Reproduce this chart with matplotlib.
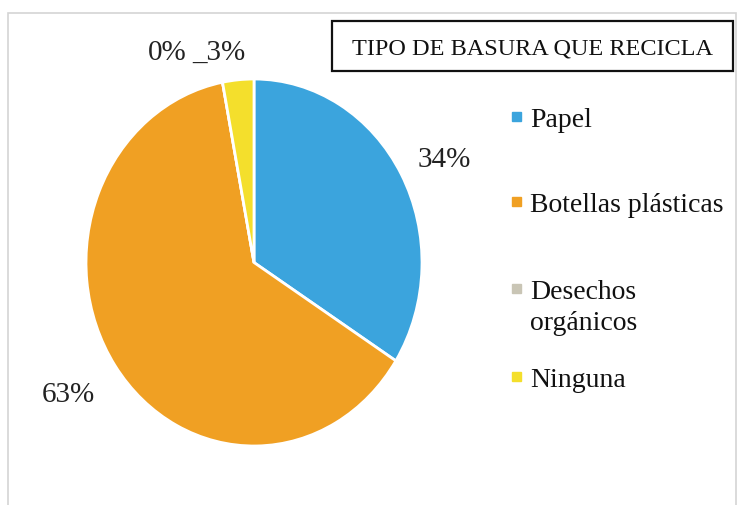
import matplotlib.pyplot as plt
from matplotlib.patches import Rectangle

plt.rcParams['font.family'] = ['Liberation Serif', 'DejaVu Serif']

categories = ['Papel', 'Botellas plásticas', 'Desechos\norgánicos', 'Ninguna']
values = [34, 63, 0, 3]
colors = ['#3ba4dd', '#f0a023', '#c9c5b5', '#f4df2c']

W, H = 743, 506
fig = plt.figure(figsize=(W / 100, H / 100), dpi=100)


def fx(x):
    return x / W


def fy(y):
    return 1 - y / H


# faint outer frame
fig.add_artist(Rectangle((fx(8), fy(530)), fx(728), 516 / H,
                         transform=fig.transFigure, fill=False,
                         edgecolor='#d4d4d4', linewidth=1.2))

# pie is slightly squashed horizontally in the source image
cx, cy, rx, ry = 254, 263.5, 168, 183.5
ax = fig.add_axes([fx(cx - rx), fy(cy + ry), 2 * rx / W, 2 * ry / H])
wedges, _ = ax.pie(values, colors=colors, startangle=90, counterclock=False,
                   radius=1, wedgeprops=dict(edgecolor='white', linewidth=2))
ax.set_xlim(-1, 1)
ax.set_ylim(-1, 1)
ax.set_aspect('auto')
ax.axis('off')

# percentage labels (left edge, baseline)
label_pos = [(418, 167), (42, 402), (148, 60), (192, 60)]
for (x, y), v, name in zip(label_pos, values, categories):
    txt = f'{v}%'
    if name == 'Ninguna':
        txt = '_' + txt
    fig.text(fx(x), fy(y), txt, fontsize=21, color='#222222',
             ha='left', va='baseline')

# title box
fig.add_artist(Rectangle((fx(332), fy(72)), fx(401), 50 / H,
                         transform=fig.transFigure, fill=False,
                         edgecolor='#111111', linewidth=1.6))
fig.text(fx(532), fy(54), 'TIPO DE BASURA QUE RECICLA', fontsize=17.5,
         ha='center', va='baseline', color='#111111')

# legend, drawn by hand to match the uneven spacing
leg_base = [127, 212, 299, 387]
for y, c, name in zip(leg_base, colors, categories):
    fig.add_artist(Rectangle((fx(512), fy(y - 5)), fx(9), 9 / H,
                             transform=fig.transFigure, color=c))
    for i, line in enumerate(name.split('\n')):
        fig.text(fx(530), fy(y + 31 * i), line, fontsize=20, color='#111111',
                 ha='left', va='baseline')

fig.savefig('out.png', dpi=100, facecolor='white')
